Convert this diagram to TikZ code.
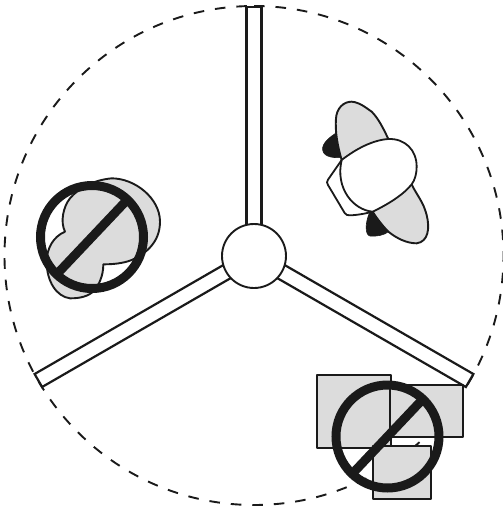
\documentclass[tikz,border=0pt]{standalone}
\definecolor{shade}{HTML}{DCDCDC}
\definecolor{ink}{HTML}{1A1A1A}
\tikzset{
  rim/.style={draw=ink,line width=1.9pt,dash pattern=on 10.6pt off 10.93pt},
  arm/.style={draw=ink,fill=white,line width=2.2pt},
  hub/.style={draw=ink,fill=white,line width=1.9pt},
  part/.style={draw=ink,fill=shade,line width=1.9pt,line join=round},
  blank/.style={draw=ink,fill=white,line width=1.8pt,line join=round},
  dark/.style={fill=ink,draw=ink,line width=.6pt},
  ban/.style={draw=ink,line width=9pt}
}
\begin{document}
\begin{tikzpicture}[x=1pt,y=-1pt]
\useasboundingbox (0,0) rectangle (503,507);
% outer dashed circle
\draw[rim] (254,6) arc[start angle=90,delta angle=-360,radius=249.5pt];
% arms
\foreach \ang in {90,-30,210}{
  \begin{scope}[shift={(254,256)},rotate=\ang]
    \draw[arm] (0,-7.5) rectangle (249,7.5);
  \end{scope}
}
\draw[hub] (254,256) circle[radius=32pt];
% person seen from above (upper right)
\begin{scope}[shift={(320,95)},scale=1/3]
  \draw[dark] (52,112) .. controls (30,125) and (5,145) .. (8,165) .. controls (12,190) and (50,188) .. (65,188) -- cycle;
  \draw[dark] (158,350) -- (148,355) .. controls (135,385) and (135,420) .. (150,423) .. controls (170,425) and (195,420) .. (205,410) -- cycle;
  \draw[part] (65,195) .. controls (52,150) and (45,110) .. (48,70) .. controls (50,40) and (70,20) .. (95,20) .. controls (120,22) and (140,40) .. (155,50) .. controls (175,70) and (190,100) .. (205,132) -- cycle;
  \draw[part] (275,268) .. controls (290,300) and (310,320) .. (320,360) .. controls (330,400) and (325,440) .. (290,445) .. controls (260,445) and (230,430) .. (205,410) .. controls (190,395) and (170,370) .. (158,350) -- cycle;
  \draw[blank] (65,195) -- (24,254) .. controls (20,260) and (20,264) .. (24,270) -- (74,354) .. controls (78,360) and (82,361) .. (90,361) .. controls (115,360) and (140,355) .. (158,350);
  \draw[blank] (65,195) .. controls (110,160) and (160,135) .. (205,132) .. controls (255,130) and (290,165) .. (290,215) .. controls (290,235) and (285,255) .. (275,268) .. controls (250,300) and (200,330) .. (158,350) .. controls (100,345) and (45,280) .. (65,195) -- cycle;
\end{scope}
% left object
\begin{scope}[shift={(20,165)},scale=1/3]
  \draw[part] (135,200) .. controls (120,170) and (130,125) .. (150,100) .. controls (175,70) and (220,45) .. (275,40) .. controls (345,40) and (420,100) .. (420,170) .. controls (420,230) and (380,265) .. (335,285) .. controls (310,295) and (280,298) .. (250,298) .. controls (250,335) and (235,360) .. (225,375) .. controls (205,395) and (180,400) .. (150,400) .. controls (110,395) and (80,350) .. (80,290) .. controls (80,250) and (100,215) .. (135,200) -- cycle;
\end{scope}
\draw[ban] (92,237) circle[radius=51.5pt];
\draw[ban] (57,274) -- (127,200);
% lower right boxes
\draw[part] (317,375) rectangle (391,448);
\draw[part] (390,385) rectangle (463,437);
\draw[part] (373,446) rectangle (431,499);
\draw[ban] (387.5,436.5) circle[radius=51.5pt];
\draw[ban] (353,473) -- (422,400);
\end{tikzpicture}
\end{document}
